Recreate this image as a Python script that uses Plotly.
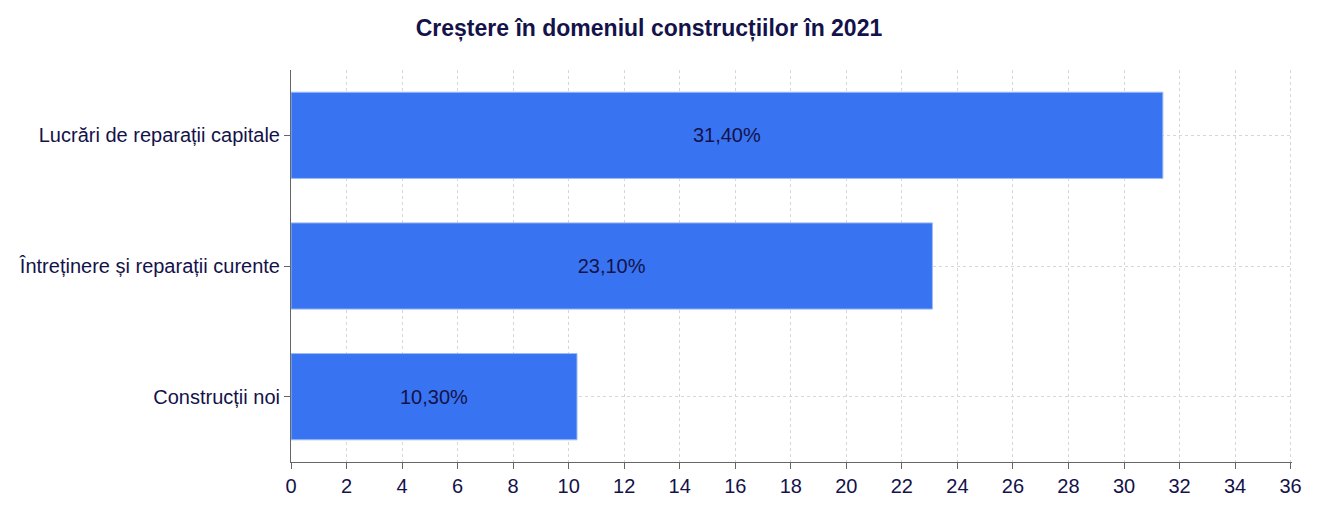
import plotly.graph_objects as go

categories = ["Construcții noi", "Întreținere și reparații curente", "Lucrări de reparații capitale"]
growth = [10.3, 23.1, 31.4]
labels = [f"{v:.2f}%".replace(".", ",") for v in growth]
x_ticks = list(range(0, 37, 2))

navy = "#14124a"

fig = go.Figure(go.Bar(
    x=growth,
    y=categories,
    orientation="h",
    text=labels,
    textposition="inside",
    insidetextanchor="middle",
    textfont=dict(size=20, color=navy, family="Liberation Sans"),
    marker=dict(color="#3874f2", line=dict(color="#9dbaf7", width=1)),
    hoverinfo="skip",
))

fig.update_layout(
    title=dict(text="<b>Creștere în domeniul construcțiilor în 2021</b>",
               x=0.4856, xanchor="center", y=0.978,
               font=dict(size=23, color=navy, family="Liberation Sans")),
    width=1320, height=520,
    margin=dict(l=283, r=36, t=62, b=66),
    plot_bgcolor="white", paper_bgcolor="white",
    bargap=0.34,
    font=dict(family="Liberation Sans", color=navy, size=20),
    showlegend=False,
)
fig.update_xaxes(range=[0, 36.05], tickvals=x_ticks, showline=True, linecolor="#666666",
                 linewidth=1, ticks="outside", tickcolor="#666666", ticklen=6,
                 showgrid=True, gridcolor="#d6d6d6", griddash="3px,3px", gridwidth=1,
                 zeroline=False, tickfont=dict(size=20, color=navy))
fig.update_yaxes(showline=True, linecolor="#666666", linewidth=1, ticks="outside",
                 tickcolor="#666666", ticklen=6, showgrid=True, gridcolor="#d6d6d6",
                 griddash="3px,3px", tickfont=dict(size=20, color=navy))

fig.write_html("out.html")
